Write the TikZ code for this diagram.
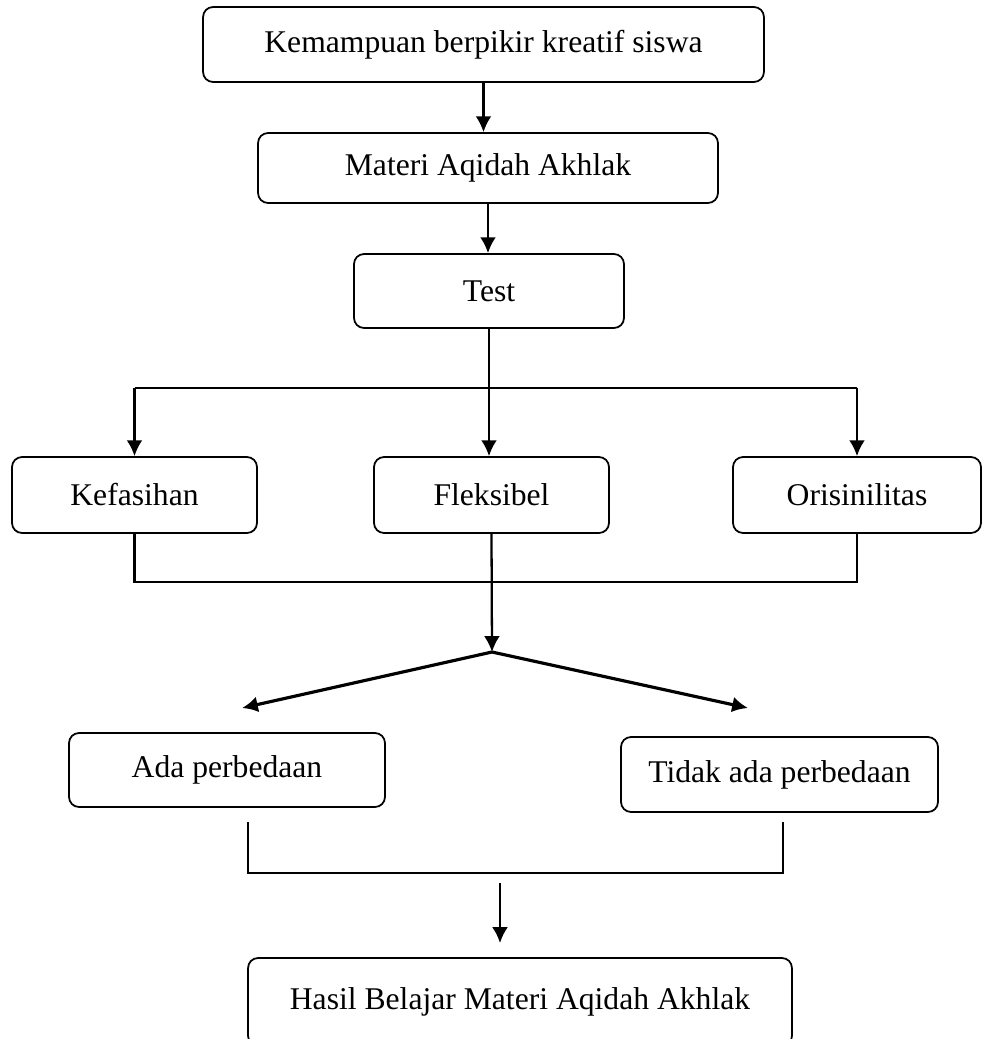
\documentclass[tikz,border=0pt]{standalone}
\usepackage{fontspec}
\setmainfont{Liberation Serif}
\usetikzlibrary{arrows.meta}
\begin{document}
\begin{tikzpicture}[x=0.02cm,y=-0.02cm]
    \tikzstyle{bx} = [rectangle,rounded corners=0.2cm,draw=black,line width=1pt,inner sep=0pt,font=\fontsize{18}{20}\selectfont] %box
    \tikzstyle{ar} = [-{Latex[length=9pt,width=9pt]},line width=1.3pt] %arrow
    \tikzstyle{ln} = [-,line width=1.2pt] %plain line
    \useasboundingbox (0,0) rectangle (983,1039);
    \node[bx,minimum width=11.22cm,minimum height=1.5cm](vk)at(483.5,44.5){Kemampuan berpikir kreatif siswa};
    \node[bx,minimum width=9.2cm,minimum height=1.4cm](vm)at(488,168){Materi Aqidah Akhlak};
    \node[bx,minimum width=5.4cm,minimum height=1.48cm](vt)at(489,291){Test};
    \node[bx,minimum width=4.9cm,minimum height=1.52cm](vkf)at(134.5,495){Kefasihan};
    \node[bx,minimum width=4.7cm,minimum height=1.52cm](vfl)at(491.5,495){Fleksibel};
    \node[bx,minimum width=4.96cm,minimum height=1.52cm](vor)at(857,495){Orisinilitas};
    \node[bx,minimum width=6.32cm,minimum height=1.48cm](vad)at(227,770){Ada perbedaan};
    \node[bx,minimum width=6.34cm,minimum height=1.5cm](vtd)at(779.5,774.5){Tidak ada perbedaan};
    \node[bx,minimum width=10.88cm,minimum height=1.76cm](vhb)at(520,1002){Hasil Belajar Materi Aqidah Akhlak};
    \coordinate(cs)at(490,388); %split
    \coordinate(cj)at(491,582); %join
    \coordinate(ca)at(492,652); %apex
    \coordinate(cl)at(242,708);
    \coordinate(cr)at(748,708);
    \coordinate(cbl)at(248,822);
    \coordinate(cbr)at(783,822);
    \coordinate(cbt)at(500,883);
    \coordinate(cbe)at(500,943);
    \draw[ar](vk.south)--(vk.south|-vm.north);
    \draw[ar](vm.south)--(vm.south|-vt.north);
    \draw[ar](vt.south)--(vt.south|-vfl.north);
    \draw[ln](vkf.north|-cs)--(vor.north|-cs);
    \draw[ar](vkf.north|-cs)--(vkf.north);
    \draw[ar](vor.north|-cs)--(vor.north);
    \draw[ln](vkf.south)--(vkf.south|-cj)--(vor.south|-cj)--(vor.south);
    \draw[ar](vfl.south)--(ca);
    \draw[ar,line width=1.8pt](ca)--(cl);
    \draw[ar,line width=1.8pt](ca)--(cr);
    \draw[ln,line width=0.9pt](cbl)--(cbl|-0,873)--(cbr|-0,873)--(cbr);
    \draw[ar](cbt)--(cbe);
  \end{tikzpicture}
\end{document}
